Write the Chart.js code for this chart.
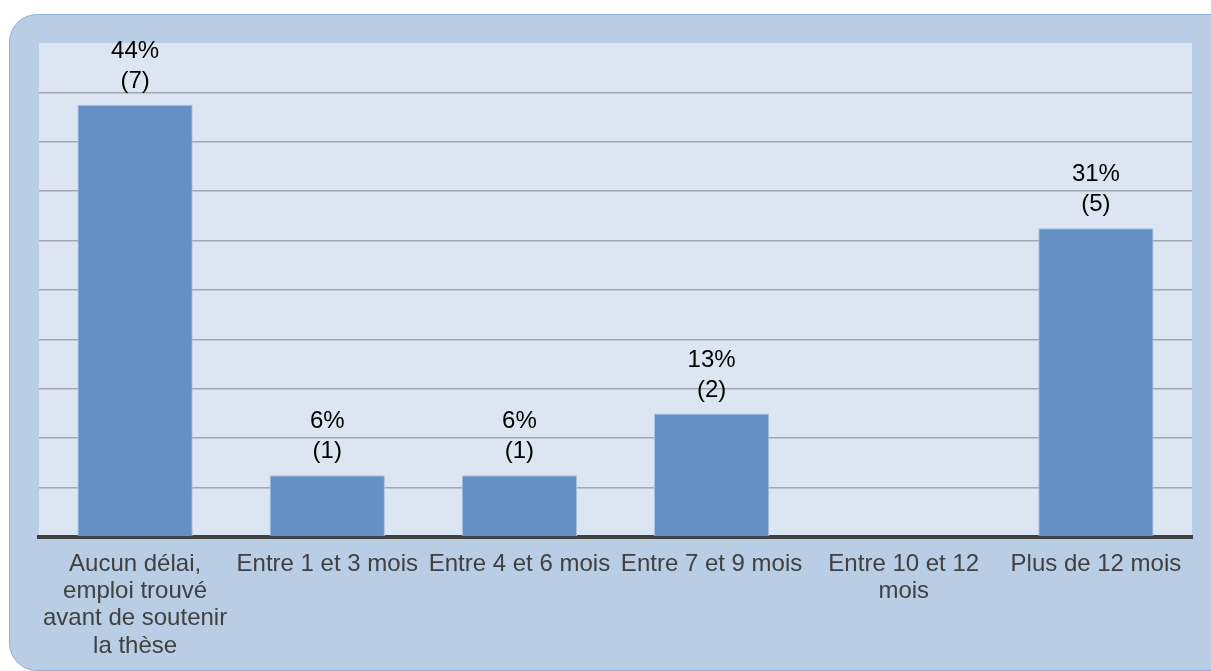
<!DOCTYPE html>
<html>
<head>
<meta charset="utf-8">
<script src="https://cdn.jsdelivr.net/npm/chart.js@4/dist/chart.umd.min.js"></script>
<style>
  html, body { margin: 0; padding: 0; background: #fff; overflow: hidden; }
  #wrap { position: relative; width: 1211px; height: 671px; overflow: hidden; }
  #box {
    position: absolute; left: 9px; top: 14px; width: 1230px; height: 655px;
    background: #B9CDE5; border: 1px solid #93B1D6; border-radius: 28px;
  }
  canvas { position: absolute; left: 0; top: 0; }
</style>
</head>
<body>
<div id="wrap">
  <div id="box"></div>
  <canvas id="chart" width="1211" height="671"></canvas>
</div>
<script>
const categories = [
  ["Aucun délai,", "emploi trouvé", "avant de soutenir", "la thèse"],
  "Entre 1 et 3 mois",
  "Entre 4 et 6 mois",
  "Entre 7 et 9 mois",
  ["Entre 10 et 12", "mois"],
  "Plus de 12 mois"
];
const percentValues = [43.75, 6.25, 6.25, 12.5, 0, 31.25];
const percentLabels = ["44%", "6%", "6%", "13%", "", "31%"];
const countLabels = ["(7)", "(1)", "(1)", "(2)", "", "(5)"];

const FONT = "'Liberation Sans', Arial, sans-serif";

// fond de la zone de tracé
const plotBg = {
  id: "plotBg",
  beforeDraw(chart) {
    const { ctx, chartArea: a } = chart;
    ctx.save();
    ctx.fillStyle = "#DCE6F2";
    ctx.fillRect(a.left, a.top, a.right - a.left, a.bottom - a.top);
    ctx.restore();
  }
};

// étiquettes au-dessus des barres
const barLabels = {
  id: "barLabels",
  afterDatasetsDraw(chart) {
    const { ctx } = chart;
    const meta = chart.getDatasetMeta(0);
    ctx.save();
    ctx.fillStyle = "#000";
    ctx.font = "24px " + FONT;
    ctx.textAlign = "center";
    ctx.textBaseline = "alphabetic";
    meta.data.forEach((bar, i) => {
      if (!percentLabels[i]) return;
      ctx.fillText(countLabels[i], bar.x, bar.y - 17);
      ctx.fillText(percentLabels[i], bar.x, bar.y - 47);
    });
    ctx.restore();
  }
};

new Chart(document.getElementById("chart"), {
  type: "bar",
  data: {
    labels: categories,
    datasets: [{
      data: percentValues,
      backgroundColor: "#6590C5",
      borderColor: "#A9C1E0",
      borderWidth: 1,
      barPercentage: 0.6,
      categoryPercentage: 1
    }]
  },
  options: {
    responsive: false,
    animation: false,
    layout: { padding: { left: 39, top: 43, right: 19, bottom: 0 } },
    plugins: { legend: { display: false }, tooltip: { enabled: false } },
    scales: {
      x: {
        grid: { display: false, drawTicks: false },
        border: { display: true, color: "#404040", width: 4 },
        ticks: {
          color: "#404040",
          font: { family: FONT, size: 24, lineHeight: 1.13 },
          padding: 14,
          maxRotation: 0,
          autoSkip: false
        },
        afterFit(s) { s.height = 134; }
      },
      y: {
        min: 0, max: 50,
        ticks: { display: false, stepSize: 5 },
        border: { display: false },
        grid: {
          drawTicks: false,
          color: c => (c.tick.value === 0 || c.tick.value === 50) ? "rgba(0,0,0,0)" : "#A2A8AE",
          lineWidth: 1.5
        },
        afterFit(s) { s.width = 0; }
      }
    }
  },
  plugins: [plotBg, barLabels]
});
</script>
</body>
</html>
